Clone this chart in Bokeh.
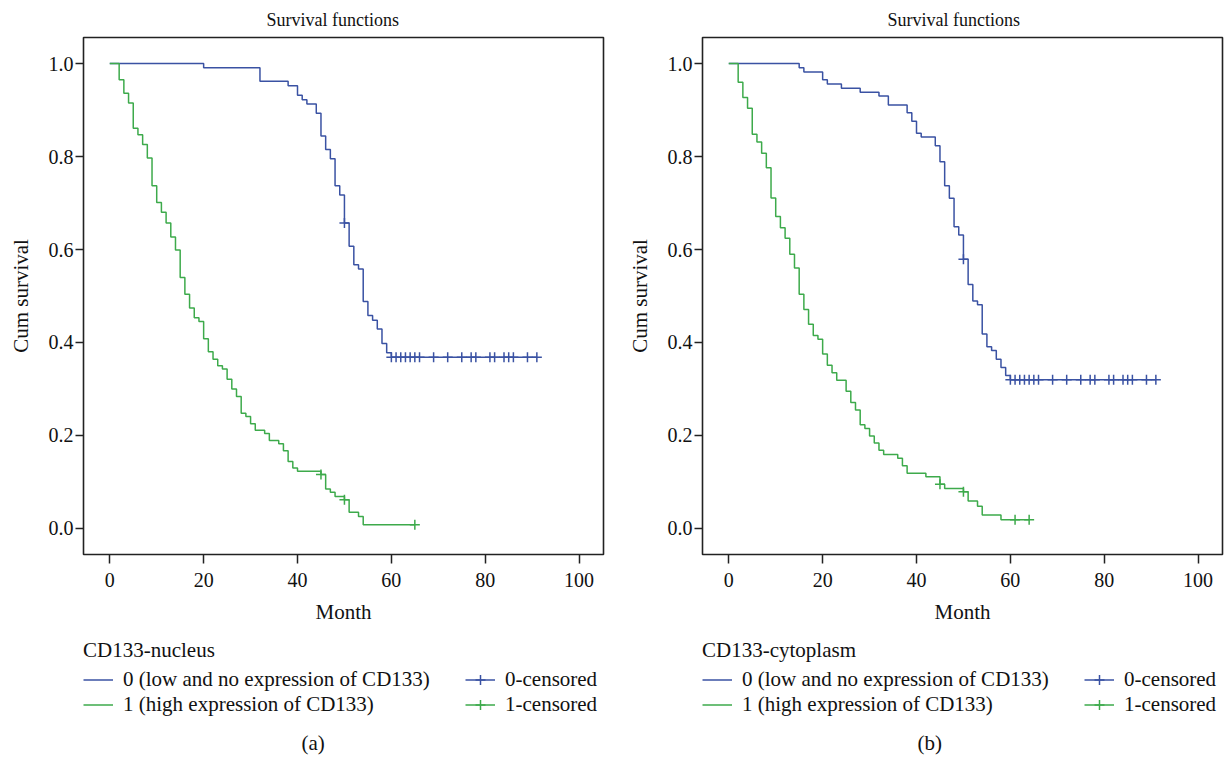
import numpy as np
from bokeh.plotting import figure
from bokeh.layouts import row, column
from bokeh.models import Legend, LegendItem, Title, FixedTicker, Range1d, CustomJSTickFormatter
from bokeh.embed import file_html
from bokeh.resources import INLINE

# ---------------- data ----------------
month_ticks = [0, 20, 40, 60, 80, 100]
surv_ticks = [0.0, 0.2, 0.4, 0.6, 0.8, 1.0]

# Panel (a): CD133-nucleus
nuc0_t = [0, 20, 32, 38, 40, 41, 42, 44, 45, 46, 47, 48, 49, 50, 51, 52, 53, 54, 55, 56, 57, 58, 59, 60, 91]
nuc0_s = [1.0, 0.991, 0.962, 0.952, 0.932, 0.922, 0.913, 0.893, 0.844, 0.815, 0.795, 0.737, 0.717, 0.657,
          0.607, 0.567, 0.558, 0.488, 0.458, 0.448, 0.429, 0.398, 0.378, 0.368, 0.368]
nuc0_cens = [50, 60, 61, 62, 63, 64, 65, 66, 69, 72, 75, 77, 78, 81, 82, 84, 85, 86, 89, 91]

nuc1_t = [0, 2, 3, 4, 5, 6, 7, 8, 9, 10, 11, 12, 13, 14, 15, 16, 17, 18, 19, 20, 21, 22, 23, 24, 25, 26, 27,
          28, 29, 30, 31, 33, 34, 36, 37, 38, 39, 40, 45, 46, 47, 48, 50, 51, 53, 54, 65]
nuc1_s = [1.0, 0.965, 0.936, 0.915, 0.861, 0.847, 0.826, 0.797, 0.737, 0.701, 0.680, 0.657, 0.627, 0.599,
          0.540, 0.504, 0.474, 0.453, 0.445, 0.408, 0.380, 0.364, 0.350, 0.343, 0.321, 0.300, 0.284, 0.248,
          0.241, 0.225, 0.211, 0.204, 0.189, 0.182, 0.167, 0.144, 0.130, 0.123, 0.116, 0.085, 0.078, 0.069,
          0.062, 0.035, 0.026, 0.008, 0.008]
nuc1_cens = [45, 50, 65]

# Panel (b): CD133-cytoplasm
cyt0_t = [0, 15, 16, 20, 21, 24, 28, 32, 34, 38, 39, 40, 41, 44, 45, 46, 47, 48, 49, 50, 51, 52, 53, 54, 55,
          56, 57, 58, 59, 60, 91]
cyt0_s = [1.0, 0.991, 0.982, 0.965, 0.956, 0.947, 0.938, 0.930, 0.911, 0.894, 0.876, 0.850, 0.842, 0.823,
          0.789, 0.737, 0.710, 0.649, 0.631, 0.579, 0.525, 0.489, 0.481, 0.418, 0.391, 0.383, 0.364, 0.346,
          0.329, 0.320, 0.320]
cyt0_cens = [50, 60, 61, 62, 63, 64, 65, 66, 69, 72, 75, 77, 78, 81, 82, 84, 85, 86, 89, 91]

cyt1_t = [0, 2, 3, 4, 5, 6, 7, 8, 9, 10, 11, 12, 13, 14, 15, 16, 17, 18, 19, 20, 21, 22, 23, 25, 26, 27, 28,
          29, 30, 31, 32, 33, 36, 37, 38, 42, 45, 46, 50, 51, 53, 54, 58, 64]
cyt1_s = [1.0, 0.960, 0.927, 0.904, 0.848, 0.831, 0.807, 0.776, 0.711, 0.671, 0.647, 0.624, 0.590, 0.560,
          0.504, 0.471, 0.439, 0.415, 0.407, 0.375, 0.351, 0.335, 0.319, 0.295, 0.271, 0.255, 0.223, 0.215,
          0.199, 0.184, 0.168, 0.159, 0.151, 0.135, 0.119, 0.111, 0.095, 0.086, 0.079, 0.059, 0.048, 0.029,
          0.019, 0.019]
cyt1_cens = [45, 50, 61, 64]

group0_label = "0 (low and no expression of CD133)"
group1_label = "1 (high expression of CD133)"
cens0_label = "0-censored"
cens1_label = "1-censored"

BLUE = "#3A52A3"
GREEN = "#3DAA4B"
FONT = "Liberation Serif"
INK = "#111111"


def level_at(times, surv, pts):
    idx = np.searchsorted(np.asarray(times), np.asarray(pts), side="right") - 1
    return np.asarray(surv)[idx]


def draw_series(fig, t0, s0, c0, t1, s1, c1, cross_size):
    r0 = fig.step(t0, s0, mode="after", line_color=BLUE, line_width=1.5)
    r1 = fig.step(t1, s1, mode="after", line_color=GREEN, line_width=1.5)
    k0 = fig.scatter(c0, level_at(t0, s0, c0), marker="cross", size=cross_size, line_color=BLUE, line_width=1.5)
    k1 = fig.scatter(c1, level_at(t1, s1, c1), marker="cross", size=cross_size, line_color=GREEN, line_width=1.5)
    return r0, r1, k0, k1


def main_panel(t0, s0, c0, t1, s1, c1, width, bl, br, title_off):
    p = figure(width=width, height=635, x_range=Range1d(-5.6, 105.2), y_range=Range1d(-0.056, 1.056),
               output_backend="svg", toolbar_location=None,
               min_border_left=bl, min_border_right=br, min_border_top=36, min_border_bottom=81)
    p.title.text = "Survival functions"
    p.title.align = "left"
    p.title.offset = title_off
    p.title.standoff = 15
    p.title.text_font = FONT
    p.title.text_font_size = "18px"
    p.title.text_font_style = "normal"
    p.title.text_color = INK

    p.outline_line_color = "#222222"
    p.outline_line_width = 1.6
    p.grid.visible = False

    for ax in (p.xaxis[0], p.yaxis[0]):
        ax.axis_line_color = None
        ax.major_tick_line_color = "#222222"
        ax.major_tick_line_width = 1.5
        ax.major_tick_in = 0
        ax.minor_tick_line_color = None
        ax.major_label_text_font = FONT
        ax.major_label_text_font_size = "20px"
        ax.major_label_text_color = INK
        ax.axis_label_text_font = FONT
        ax.axis_label_text_font_size = "21px"
        ax.axis_label_text_font_style = "normal"
        ax.axis_label_text_color = INK
    p.xaxis.ticker = FixedTicker(ticks=month_ticks)
    p.yaxis.ticker = FixedTicker(ticks=surv_ticks)
    p.yaxis.formatter = CustomJSTickFormatter(code="return tick.toFixed(1)")
    p.xaxis.axis_label = "Month"
    p.yaxis.axis_label = "Cum survival"
    p.xaxis.major_tick_out = 9
    p.yaxis.major_tick_out = 8
    p.xaxis.major_label_standoff = 9
    p.yaxis.major_label_standoff = 2
    p.xaxis.axis_label_standoff = 10
    p.yaxis.axis_label_standoff = 13

    draw_series(p, t0, s0, c0, t1, s1, c1, 10)
    return p


def legend_panel(legend_title, caption, t0, s0, c0, t1, s1, c1, width, bl, br, cap_off):
    # same series, drawn on a range where survival values never appear; only the legend shows them
    q = figure(width=width, height=124, x_range=Range1d(-5.6, 105.2), y_range=Range1d(2.0, 3.0),
               x_axis_type=None, y_axis_type=None,
               output_backend="svg", toolbar_location=None,
               min_border_left=bl, min_border_right=br, min_border_top=0, min_border_bottom=27)
    q.outline_line_color = None
    q.grid.visible = False
    r0, r1, k0, k1 = draw_series(q, t0, s0, c0, t1, s1, c1, 10)
    legend = Legend(items=[LegendItem(label=group0_label, renderers=[r0]),
                           LegendItem(label=group1_label, renderers=[r1]),
                           LegendItem(label=cens0_label, renderers=[r0, k0]),
                           LegendItem(label=cens1_label, renderers=[r1, k1])],
                    ncols=2, location=(0, 6), title=legend_title,
                    title_text_font=FONT, title_text_font_size="21px", title_text_font_style="normal",
                    title_text_color=INK, title_standoff=4,
                    label_text_font=FONT, label_text_font_size="21px", label_text_color=INK,
                    label_height=22, label_width=342, glyph_width=30, glyph_height=25,
                    label_standoff=10, spacing=0,
                    margin=0, padding=0, border_line_color=None, background_fill_alpha=0)
    q.add_layout(legend, "center")
    cap = Title(text=caption, align="left", offset=cap_off, text_font=FONT, text_font_size="21px",
                text_font_style="normal", text_color=INK)
    q.add_layout(cap, "below")
    return q


pa = column(main_panel(nuc0_t, nuc0_s, nuc0_cens, nuc1_t, nuc1_s, nuc1_cens,
                       width=620, bl=83, br=17, title_off=183),
            legend_panel("CD133-nucleus", "(a)", nuc0_t, nuc0_s, nuc0_cens, nuc1_t, nuc1_s, nuc1_cens,
                         width=620, bl=83, br=17, cap_off=218))
pb = column(main_panel(cyt0_t, cyt0_s, cyt0_cens, cyt1_t, cyt1_s, cyt1_cens,
                       width=604, bl=82, br=2, title_off=185),
            legend_panel("CD133-cytoplasm", "(b)", cyt0_t, cyt0_s, cyt0_cens, cyt1_t, cyt1_s, cyt1_cens,
                         width=604, bl=82, br=2, cap_off=215))

layout = row(pa, pb)
open("out.html", "w").write(file_html(layout, INLINE))
